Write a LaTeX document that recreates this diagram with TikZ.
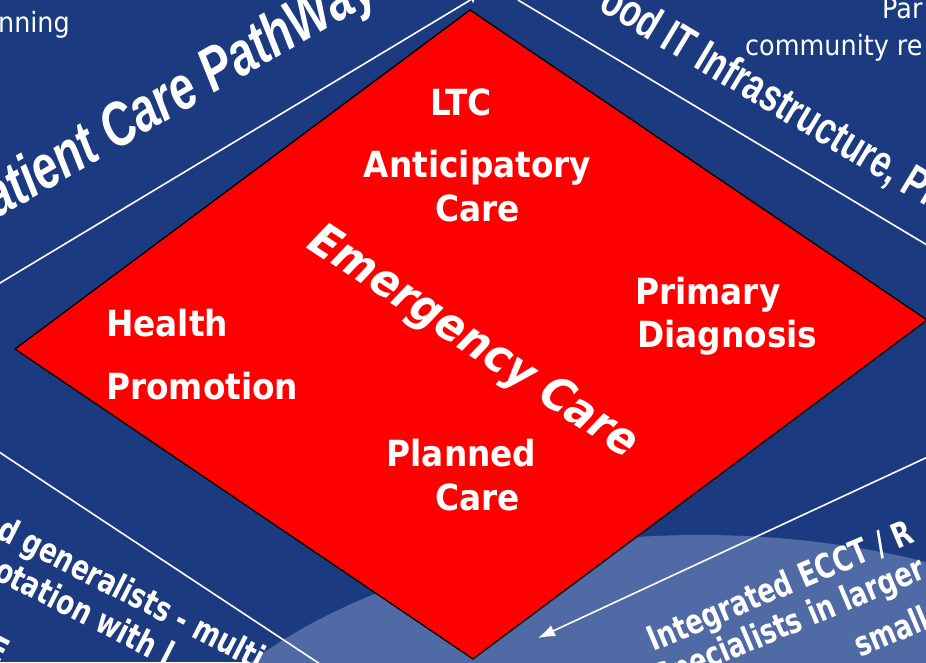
\documentclass[tikz,border=0pt]{standalone}
\usepackage{fontspec}
\usetikzlibrary{arrows.meta}
\setmainfont{DejaVu Sans}
\newfontfamily\tahfont[FakeStretch=0.91]{DejaVu Sans}
\newfontfamily\sidefont[FakeStretch=0.76]{DejaVu Sans}
\newfontfamily\narfont[FakeStretch=0.74]{Liberation Sans}
\definecolor{bgblue}{RGB}{27,58,128}
\definecolor{ltblue}{RGB}{79,106,165}
\definecolor{dred}{RGB}{255,0,0}
\begin{document}
\begin{tikzpicture}[x=1pt,y=-1pt,
  wl/.style={white,line width=1.6pt},
  inlbl/.style={text=white,inner sep=0pt,font=\tahfont\bfseries\fontsize{36}{40}\selectfont},
  sidebold/.style={text=white,inner sep=0pt,font=\sidefont\bfseries\fontsize{34}{38}\selectfont},
  plaintxt/.style={text=white,inner sep=0pt,font=\tahfont\fontsize{28}{32}\selectfont},
  slogan/.style={text=white,inner sep=0pt,font=\narfont\bfseries\fontsize{46}{50}\selectfont},
  sloganit/.style={text=white,inner sep=0pt,font=\narfont\bfseries\itshape\fontsize{62}{66}\selectfont},
  emerg/.style={text=white,inner sep=0pt,font=\tahfont\bfseries\itshape\fontsize{46}{50}\selectfont}]
\useasboundingbox (0,0) rectangle (926,662);
\clip (0,0) rectangle (926,662);
% background
\fill[bgblue] (0,0) rectangle (926,662);
\fill[ltblue] (700,865) ellipse [x radius=570, y radius=330];
% white guide lines
\coordinate (ulA) at (-10,289);
\coordinate (ulB) at (472,-1);
\coordinate (urA) at (518,0);
\coordinate (urB) at (932,248);
\coordinate (llA) at (-10,446);
\coordinate (llB) at (320,664);
\draw[wl] (ulA) -- (ulB);
\draw[wl] (urA) -- (urB);
\draw[wl] (llA) -- (llB);
% arrows
\coordinate (arS) at (932,455);
\coordinate (arE) at (538,638);
\draw[wl,-{Latex[length=17pt,width=12pt]}] (arS) -- (arE);
\coordinate (tpS) at (473,-30);
\coordinate (tpE) at (473,4);
\draw[wl,-{Latex[length=8pt,width=7pt]}] (tpS) -- (tpE);
% diamond
\coordinate (dT) at (470,10);
\coordinate (dR) at (927,320);
\coordinate (dB) at (473,659);
\coordinate (dL) at (15,349);
\filldraw[fill=dred,draw=black,line width=1.3pt,line join=miter] (dT) -- (dR) -- (dB) -- (dL) -- cycle;
% inner labels
\node[inlbl,anchor=base] (ltc) at (461,115) {LTC};
\node[inlbl,anchor=base] (ant1) at (477.5,177) {Anticipatory};
\node[inlbl,anchor=base] (ant2) at (477.5,221) {Care};
\node[inlbl,anchor=base west] (pri1) at (635,304) {Primary};
\node[inlbl,anchor=base west] (pri2) at (637,347) {Diagnosis};
\node[inlbl,anchor=base west] (hp1) at (106,336) {Health};
\node[inlbl,anchor=base west] (hp2) at (106,399) {Promotion};
\node[inlbl,anchor=base] (pl1) at (461.5,466) {Planned};
\node[inlbl,anchor=base] (pl2) at (477.5,510) {Care};
\node[emerg,anchor=base,rotate=-33.5] (emc) at (466,353) {Emergency Care};
% outer texts
\node[plaintxt,anchor=base east] (t1) at (70,32) {nning};
\node[plaintxt,anchor=base west] (t2) at (882,18) {Par};
\node[plaintxt,anchor=base west] (t3) at (745,55) {community re};
\node[sloganit,anchor=base west,rotate=30] (s1) at (-3,219) {atient Care PathWay};
\node[slogan,anchor=base west,rotate=-31] (s2) at (597,9) {ood IT Infrastructure, Pr};
\node[sidebold,anchor=base west,rotate=-27] (g1) at (-5,537) {d generalists - multi};
\node[sidebold,anchor=base west,rotate=-27] (g2) at (-8,578) {otation with l};
\node[sidebold,anchor=base east,rotate=-27] (g3) at (1,665) {E};
\node[sidebold,anchor=base west,rotate=22.8] (r1) at (653,652) {Integrated ECCT / R};
\node[sidebold,anchor=base west,rotate=22.8] (r2) at (660,690) {Specialists in larger};
\node[sidebold,anchor=base west,rotate=22.8] (r3) at (860,658) {small};
\end{tikzpicture}
\end{document}
